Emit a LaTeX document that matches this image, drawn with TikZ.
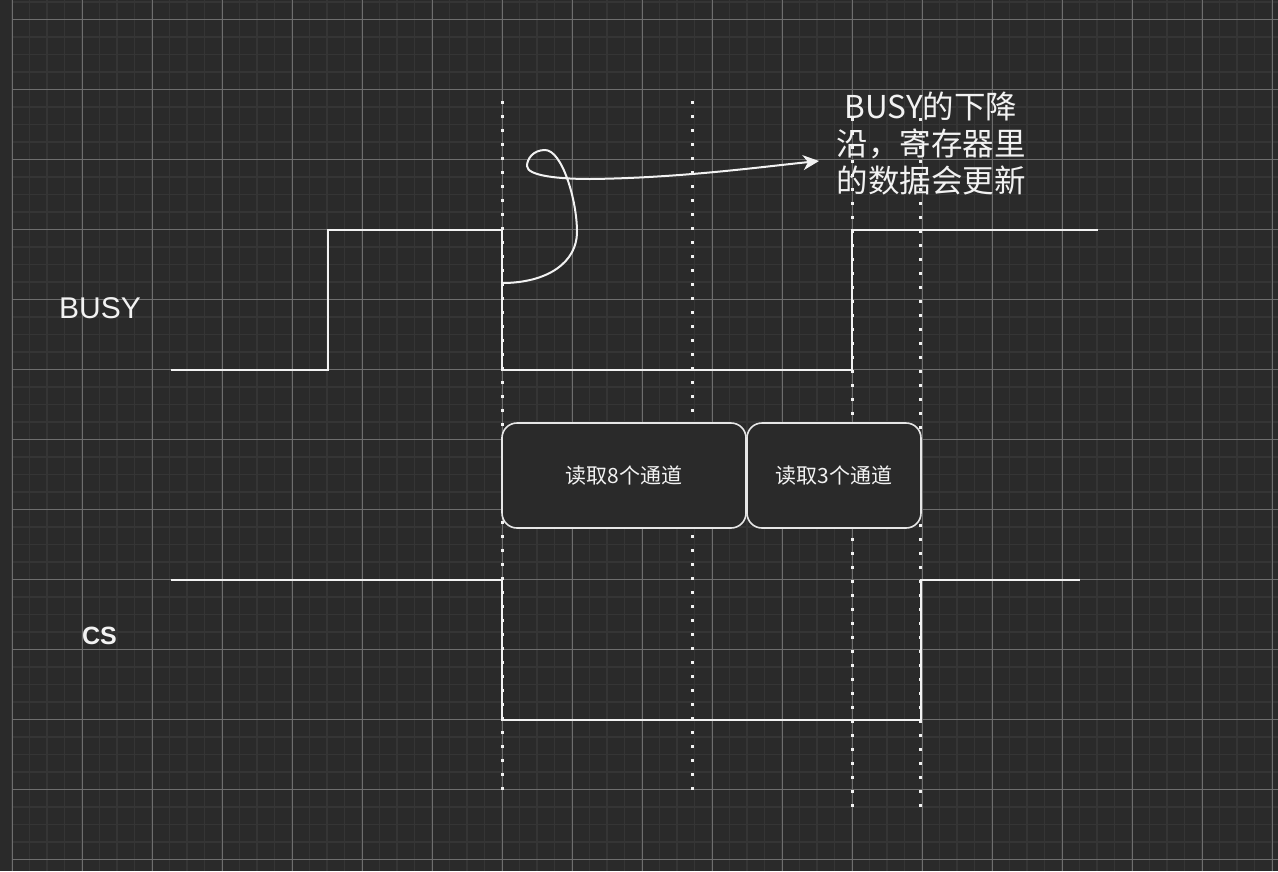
\documentclass[tikz,border=0pt]{standalone}
\usepackage{fontspec}
\setmainfont{Liberation Sans}
\newfontfamily\cjk{Noto Sans CJK SC}
\usetikzlibrary{arrows.meta}
\definecolor{bg}{HTML}{2A2A2A}
\definecolor{minorgrid}{HTML}{353535}
\definecolor{majorgrid}{HTML}{6E6E6E}
\definecolor{ink}{HTML}{F2F2F2}
\definecolor{boxline}{HTML}{E6E6E6}
\tikzset{
  minorline/.style={draw=minorgrid, line width=1.6pt},
  majorline/.style={draw=majorgrid, line width=1pt},
  wave/.style={draw=ink, line width=2pt, line join=miter},
  dotline/.style={draw=ink, line width=3pt, dash pattern=on 3pt off 11pt},
  chanbox/.style={draw=boxline, fill=bg, line width=1.6pt, rounded corners=15pt,
    text=ink, font=\cjk\fontsize{21}{25}\selectfont, inner sep=0pt},
  curvearrow/.style={draw=ink, line width=2pt, -{Stealth[length=16pt,width=15pt,inset=5pt]}}
}
\begin{document}
\begin{tikzpicture}[x=1pt,y=-1pt]
\fill[bg] (0,0) rectangle (1278,871);
\useasboundingbox (0,0) rectangle (1278,871);
% grid
\foreach \i in {0,...,72} \draw[minorline] ({12+17.5*\i},0) -- ({12+17.5*\i},871);
\foreach \j in {-1,...,48} \draw[minorline] (12,{19.5+17.5*\j}) -- (1278,{19.5+17.5*\j});
\foreach \i in {0,...,18} \draw[majorline] ({12+70*\i},0) -- ({12+70*\i},871);
\foreach \j in {0,...,12} \draw[majorline] (12,{19.5+70*\j}) -- (1278,{19.5+70*\j});
% dotted timing markers
\draw[dotline] (502,101) -- (502,790);
\draw[dotline] (692.5,101) -- (692.5,790);
\draw[dotline] (852,118) -- (852,807);
\draw[dotline] (920.5,118) -- (920.5,807);
% waveforms
\draw[wave] (171,370) -- (328,370) -- (328,230) -- (502,230) -- (502,370) -- (852,370) -- (852,230) -- (1098,230);
\draw[wave] (171,580) -- (502,580) -- (502,720) -- (920.5,720) -- (920.5,580) -- (1080,580);
% labels
\node[text=ink, font=\fontsize{30}{36}\selectfont, inner sep=0pt] (busylbl) at (100,308) {BUSY};
\node[text=ink, font=\bfseries\fontsize{25}{30}\selectfont, inner sep=0pt] (cslbl) at (99.5,636) {CS};
% channel boxes
\node[chanbox, minimum width=244pt, minimum height=105pt] (ch8) at (624,475.5) {读取8个通道};
\node[chanbox, minimum width=174pt, minimum height=105pt] (ch3) at (834,475.5) {读取3个通道};
% note
\node[text=ink, align=center, font=\cjk\fontsize{31.5}{37}\selectfont, inner sep=0pt] (note) at (931,144) {BUSY的下降\\沿，寄存器里\\的数据会更新};
\coordinate (busyfall) at (502,283);
\coordinate (tip) at (819,161);
\draw[curvearrow] (busyfall) .. controls (548,283) and (577,262) .. (577,232)
  .. controls (577,200) and (562,150) .. (545,150)
  .. controls (533,150) and (527,159) .. (527,166)
  .. controls (527,176) and (560,179) .. (590,179)
  .. controls (680,178) and (760,167) .. (tip);
\end{tikzpicture}
\end{document}
